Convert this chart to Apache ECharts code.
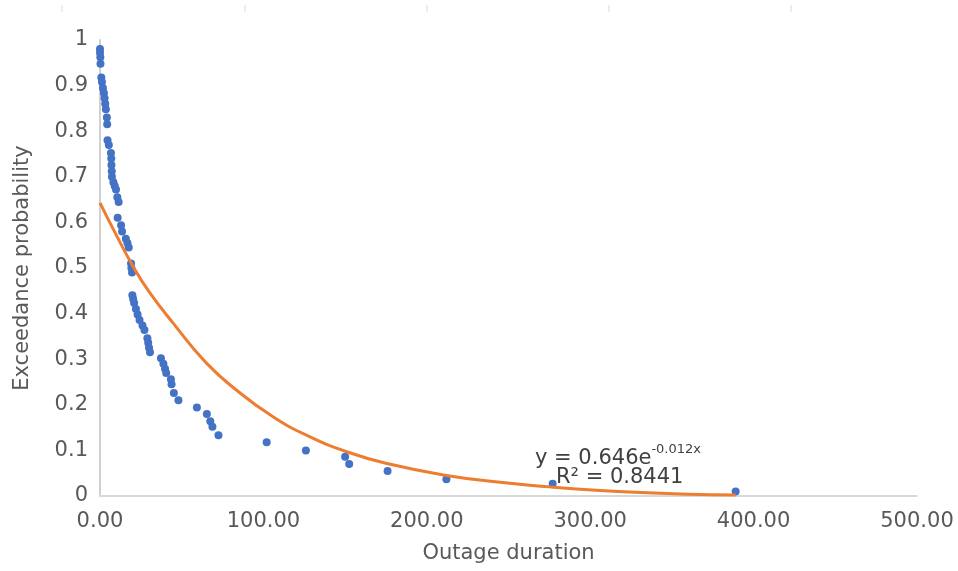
<!DOCTYPE html>
<html>
<head>
<meta charset="utf-8">
<script src="https://cdn.jsdelivr.net/npm/echarts@6/dist/echarts.min.js"></script>
<style>
  html, body { margin: 0; padding: 0; background: #fff; }
  #chart { width: 958px; height: 571px; }
</style>
</head>
<body>
<div id="chart"></div>
<script>
// observed points (outage duration, exceedance probability)
const durations = [
  0, 0, 0.2, 0.3, 0.8, 1.2, 1.8, 2.4, 2.8, 3.2, 3.6, 4.2, 4.4,
  4.6, 5.4, 6.7, 6.9, 7.0, 7.2, 7.3, 8.2, 9.0, 9.8, 10.6, 11.4, 10.8,
  12.9, 13.5, 15.8, 16.8, 17.6, 19.0, 19.2, 19.6,
  19.8, 20.3, 20.9, 22.0, 23.0, 24.2, 26.0, 27.2, 29.0, 29.5, 30.0, 30.6,
  37.3, 38.8, 39.8, 40.5, 43.4, 43.8, 45.2, 48.0, 59.3, 65.4, 67.5, 68.8, 72.5,
  102, 126, 150, 152.5, 176, 212, 277, 389
];
const probabilities = [
  0.98, 0.972, 0.962, 0.948, 0.918, 0.908, 0.895, 0.884, 0.872, 0.86, 0.848, 0.83, 0.815,
  0.78, 0.77, 0.752, 0.74, 0.726, 0.712, 0.70, 0.688, 0.68, 0.672, 0.655, 0.645, 0.61,
  0.594, 0.58, 0.564, 0.555, 0.545, 0.51, 0.50, 0.49,
  0.44, 0.432, 0.423, 0.41, 0.398, 0.386, 0.374, 0.364, 0.346, 0.336, 0.325, 0.315,
  0.302, 0.29, 0.279, 0.27, 0.256, 0.245, 0.226, 0.21, 0.194, 0.18, 0.164, 0.152, 0.133,
  0.118, 0.10, 0.086, 0.07, 0.055, 0.037, 0.027, 0.01
];

// exponential trendline
const trendX = [0, 10, 20, 30, 45, 65, 85, 105, 126, 151, 177, 212, 245, 275, 306, 335, 360, 389];
const trendY = [0.643, 0.572, 0.505, 0.448, 0.378, 0.292, 0.228, 0.176, 0.134, 0.097, 0.070, 0.045, 0.030, 0.020, 0.012, 0.007, 0.004, 0.002];

const xTickLabels = ['0.00', '100.00', '200.00', '300.00', '400.00', '500.00'];
const yTickLabels = ['0', '0.1', '0.2', '0.3', '0.4', '0.5', '0.6', '0.7', '0.8', '0.9', '1'];

const FONT = 'DejaVu Sans';
const TEXT_GRAY = '#595959';

const chart = echarts.init(document.getElementById('chart'));

const scatterData = durations.map((d, i) => [d, probabilities[i]]);
const trendData = trendX.map((d, i) => [d, trendY[i]]);

// faint stubs visible along the top edge
const topStubs = [62, 245, 427, 609, 791].map(x => ({
  type: 'line',
  shape: { x1: x, y1: 5, x2: x, y2: 12 },
  style: { stroke: '#d9d9d9', lineWidth: 1 }
}));

chart.setOption({
  animation: false,
  backgroundColor: '#fff',
  grid: { left: 100, right: 41, top: 40, bottom: 75 },
  xAxis: {
    type: 'value',
    min: 0,
    max: 500,
    interval: 100,
    name: 'Outage duration',
    nameLocation: 'middle',
    nameGap: 47,
    nameTextStyle: { fontFamily: FONT, fontSize: 21, color: TEXT_GRAY },
    axisLine: { show: true, lineStyle: { color: '#d9d9d9', width: 2 } },
    axisTick: { show: false },
    splitLine: { show: false },
    axisLabel: {
      fontFamily: FONT, fontSize: 21, color: TEXT_GRAY, margin: 15,
      formatter: v => xTickLabels[Math.round(v / 100)]
    }
  },
  yAxis: {
    type: 'value',
    min: 0,
    max: 1,
    interval: 0.1,
    name: 'Exceedance probability',
    nameLocation: 'middle',
    nameGap: 67,
    nameTextStyle: { fontFamily: FONT, fontSize: 21, color: TEXT_GRAY },
    axisLine: { show: true, lineStyle: { color: '#d0d0d0', width: 2 } },
    axisTick: { show: false },
    splitLine: { show: false },
    axisLabel: {
      fontFamily: FONT, fontSize: 21, color: TEXT_GRAY, margin: 12,
      formatter: v => yTickLabels[Math.round(v * 10)]
    }
  },
  series: [
    {
      type: 'scatter',
      data: scatterData,
      symbolSize: 8,
      itemStyle: { color: '#4472C4', opacity: 1 },
      z: 2
    },
    {
      type: 'line',
      data: trendData,
      smooth: true,
      showSymbol: false,
      lineStyle: { color: '#ED7D31', width: 3 },
      z: 3
    }
  ],
  graphic: topStubs.concat([
    {
      type: 'text',
      left: 535,
      top: 443,
      z: 10,
      style: {
        text: '{b|y = 0.646e}{s|-0.012x}',
        rich: {
          b: { fontFamily: FONT, fontSize: 21, fill: '#404040', verticalAlign: 'bottom', lineHeight: 26 },
          s: { fontFamily: FONT, fontSize: 13, fill: '#404040', verticalAlign: 'top', padding: [0, 0, 10, 0], lineHeight: 26 }
        }
      }
    },
    {
      type: 'text',
      left: 556,
      top: 467,
      z: 10,
      style: {
        text: 'R² = 0.8441',
        fontFamily: FONT,
        fontSize: 21,
        fill: '#404040'
      }
    }
  ])
});
</script>
</body>
</html>
